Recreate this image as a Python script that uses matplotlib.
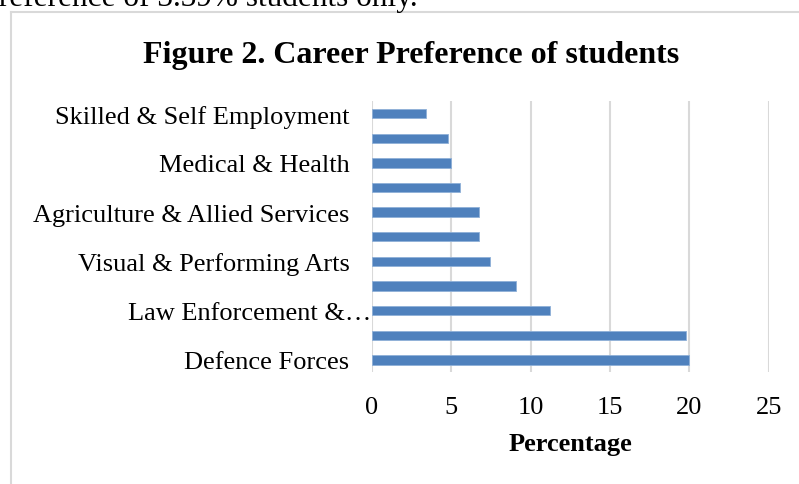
import matplotlib as mpl
mpl.use('Agg')
import matplotlib.pyplot as plt
from matplotlib.lines import Line2D
import matplotlib.transforms as mtransforms
import numpy as np

# categories bottom -> top; empty strings are the labels Excel skipped
categories = ['Defence Forces', '', 'Law Enforcement &\u2026', '',
              'Visual & Performing Arts', '', 'Agriculture & Allied Services', '',
              'Medical & Health', '', 'Skilled & Self Employment']
percent = [20.0, 19.81, 11.23, 9.10, 7.48, 6.77, 6.77, 5.53, 5.0, 4.82, 3.39]
xticks = [0, 5, 10, 15, 20, 25]

plt.rcParams['font.family'] = ['Liberation Serif', 'DejaVu Serif']

fig = plt.figure(figsize=(7.99, 4.85), dpi=100)
ax = fig.add_axes([0.4652, 0.2303, 0.4969, 0.5588])

ypos = np.arange(len(categories))
ax.barh(ypos, percent, height=0.38, color='#4F81BD', edgecolor='#8fb0d8',
        linewidth=0.6, zorder=3)

ax.set_xlim(0, 25)
ax.set_ylim(-0.5, len(categories) - 0.5)
ax.set_xticks(xticks)
ax.set_xticklabels([str(t) for t in xticks])
ax.set_yticks(ypos)
ax.set_yticklabels(categories)
ax.tick_params(axis='y', length=0, pad=16, labelsize=19)
ax.tick_params(axis='x', length=0, pad=17, labelsize=19)
ax.xaxis.grid(True, color='#d9d9d9', linewidth=1.5, zorder=0)
ax.set_axisbelow(True)
for s in ax.spines.values():
    s.set_visible(False)

# the truncated label runs its ellipsis up to the axis, like Excel does
for lab in ax.get_yticklabels():
    if lab.get_text().endswith('\u2026'):
        lab.set_transform(lab.get_transform() +
                          mtransforms.ScaledTranslation(22 / 100, 0, fig.dpi_scale_trans))

ax.set_xlabel('Percentage', fontsize=19, fontweight='bold', labelpad=10)
fig.text(0.515, 1 - 56 / 485, 'Figure 2. Career Preference of students',
         fontsize=23, fontweight='bold', ha='center', va='center')

# clipped line of the surrounding document text
fig.text(418 / 799, 1 - 6 / 485, 'preference of 3.39% students only.',
         fontsize=22.5, ha='right', va='baseline')

# chart frame (left and top edges visible)
fig.add_artist(Line2D([11 / 799, 11 / 799], [0, 1 - 12.5 / 485],
                      transform=fig.transFigure, color='#d9d9d9', linewidth=1.5))
fig.add_artist(Line2D([11 / 799, 1], [1 - 12.5 / 485, 1 - 12.5 / 485],
                      transform=fig.transFigure, color='#d9d9d9', linewidth=1.5))

fig.savefig('out.png', dpi=100)
